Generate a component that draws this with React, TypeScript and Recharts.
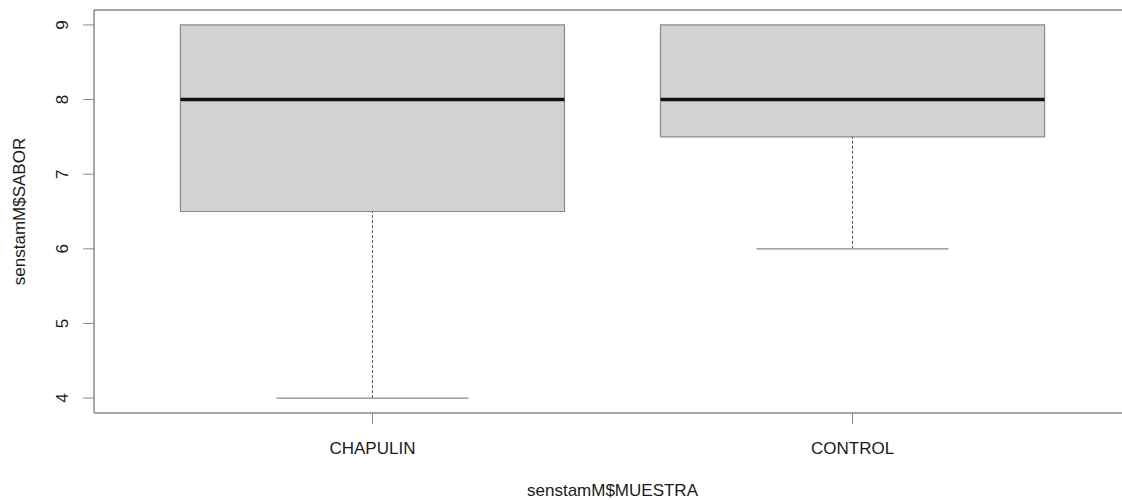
import React from "react";
import {
  ComposedChart,
  XAxis,
  YAxis,
  Scatter,
  ReferenceArea,
  ReferenceLine,
} from "recharts";

// boxplot stats
const CATEGORIES = ["CHAPULIN", "CONTROL"];
const LOWER = [4, 6];
const Q1 = [6.5, 7.5];
const MEDIAN = [8, 8];
const Q3 = [9, 9];
const UPPER = [9, 9];
const Y_TICKS = [4, 5, 6, 7, 8, 9];

const X_TITLE = "senstamM$MUESTRA";
const Y_TITLE = "senstamM$SABOR";

const FONT = '"Liberation Sans", Arial, sans-serif';
const LINE = "#8a8a8a";
const BOX_HALF = 0.4;
const STAPLE_HALF = 0.2;
const X_DOMAIN = [0.42, 2.58];
const Y_DOMAIN = [3.8, 9.2];

const data = CATEGORIES.map((name, i) => ({
  pos: i + 1,
  name,
  lower: LOWER[i],
  q1: Q1[i],
  median: MEDIAN[i],
  q3: Q3[i],
  upper: UPPER[i],
}));

const XTick = (props: any) => {
  const { x, y, payload } = props;
  return (
    <text x={x} y={y} dy={12} textAnchor="middle" fontSize={17} fontFamily={FONT} fill="#1a1a1a">
      {CATEGORIES[payload.value - 1]}
    </text>
  );
};

const YTick = (props: any) => {
  const { x, y, payload } = props;
  return (
    <text
      x={x}
      y={y}
      textAnchor="middle"
      fontSize={17}
      fontFamily={FONT}
      fill="#1a1a1a"
      transform={`rotate(-90, ${x}, ${y})`}
    >
      {payload.value}
    </text>
  );
};

export default function App() {
  return (
    <div
      style={{
        position: "fixed",
        left: 0,
        top: 0,
        width: 1122,
        height: 500,
        overflow: "hidden",
        background: "#fff",
      }}
    >
      <ComposedChart
        width={1140}
        height={500}
        data={data}
        margin={{ top: 10, right: 9, bottom: 0, left: 0 }}
      >
        <XAxis
          dataKey="pos"
          type="number"
          domain={X_DOMAIN}
          ticks={data.map((d) => d.pos)}
          interval={0}
          axisLine={false}
          tickSize={11}
          tickMargin={18}
          tickLine={{ stroke: LINE }}
          tick={<XTick />}
          height={87}
          label={{
            content: (p: any) => {
              const vb = p.viewBox;
              return (
                <text
                  x={vb.x + vb.width / 2}
                  y={vb.y + vb.height - 4}
                  textAnchor="middle"
                  fontSize={17}
                  fontFamily={FONT}
                  fill="#1a1a1a"
                >
                  {X_TITLE}
                </text>
              );
            },
          }}
        />
        <YAxis
          type="number"
          domain={Y_DOMAIN}
          ticks={Y_TICKS}
          interval={0}
          axisLine={false}
          tickSize={11}
          tickMargin={15}
          tickLine={{ stroke: LINE }}
          tick={<YTick />}
          width={94}
          label={{
            content: (p: any) => {
              const vb = p.viewBox;
              const cx = 25;
              const cy = vb.y + vb.height / 2;
              return (
                <text
                  x={cx}
                  y={cy}
                  textAnchor="middle"
                  fontSize={17}
                  fontFamily={FONT}
                  fill="#1a1a1a"
                  transform={`rotate(-90, ${cx}, ${cy})`}
                >
                  {Y_TITLE}
                </text>
              );
            },
          }}
        />

        {/* plot frame (right side falls outside the picture) */}
        <ReferenceLine y={Y_DOMAIN[1]} stroke={LINE} strokeWidth={1.5} ifOverflow="visible" />
        <ReferenceLine y={Y_DOMAIN[0]} stroke={LINE} strokeWidth={1.5} ifOverflow="visible" />
        <ReferenceLine x={X_DOMAIN[0]} stroke={LINE} strokeWidth={1.5} ifOverflow="visible" />

        {data.map((d) => (
          <ReferenceArea
            key={`box-${d.name}`}
            x1={d.pos - BOX_HALF}
            x2={d.pos + BOX_HALF}
            y1={d.q1}
            y2={d.q3}
            fill="#d3d3d3"
            fillOpacity={1}
            stroke={LINE}
            strokeWidth={1.2}
            ifOverflow="visible"
          />
        ))}

        {data.map((d) =>
          d.q1 > d.lower ? (
            <ReferenceLine
              key={`wl-${d.name}`}
              segment={[
                { x: d.pos, y: d.lower },
                { x: d.pos, y: d.q1 },
              ]}
              stroke="#555"
              strokeDasharray="3 2"
              ifOverflow="visible"
            />
          ) : null
        )}
        {data.map((d) =>
          d.upper > d.q3 ? (
            <ReferenceLine
              key={`wu-${d.name}`}
              segment={[
                { x: d.pos, y: d.q3 },
                { x: d.pos, y: d.upper },
              ]}
              stroke="#555"
              strokeDasharray="3 2"
              ifOverflow="visible"
            />
          ) : null
        )}
        {data.map((d) => (
          <ReferenceLine
            key={`sl-${d.name}`}
            segment={[
              { x: d.pos - STAPLE_HALF, y: d.lower },
              { x: d.pos + STAPLE_HALF, y: d.lower },
            ]}
            stroke={LINE}
            strokeWidth={1.2}
            ifOverflow="visible"
          />
        ))}
        {data.map((d) => (
          <ReferenceLine
            key={`med-${d.name}`}
            segment={[
              { x: d.pos - BOX_HALF, y: d.median },
              { x: d.pos + BOX_HALF, y: d.median },
            ]}
            stroke="#111"
            strokeWidth={3.5}
            ifOverflow="visible"
          />
        ))}

        <Scatter dataKey="median" fill="none" isAnimationActive={false} />
      </ComposedChart>
    </div>
  );
}
